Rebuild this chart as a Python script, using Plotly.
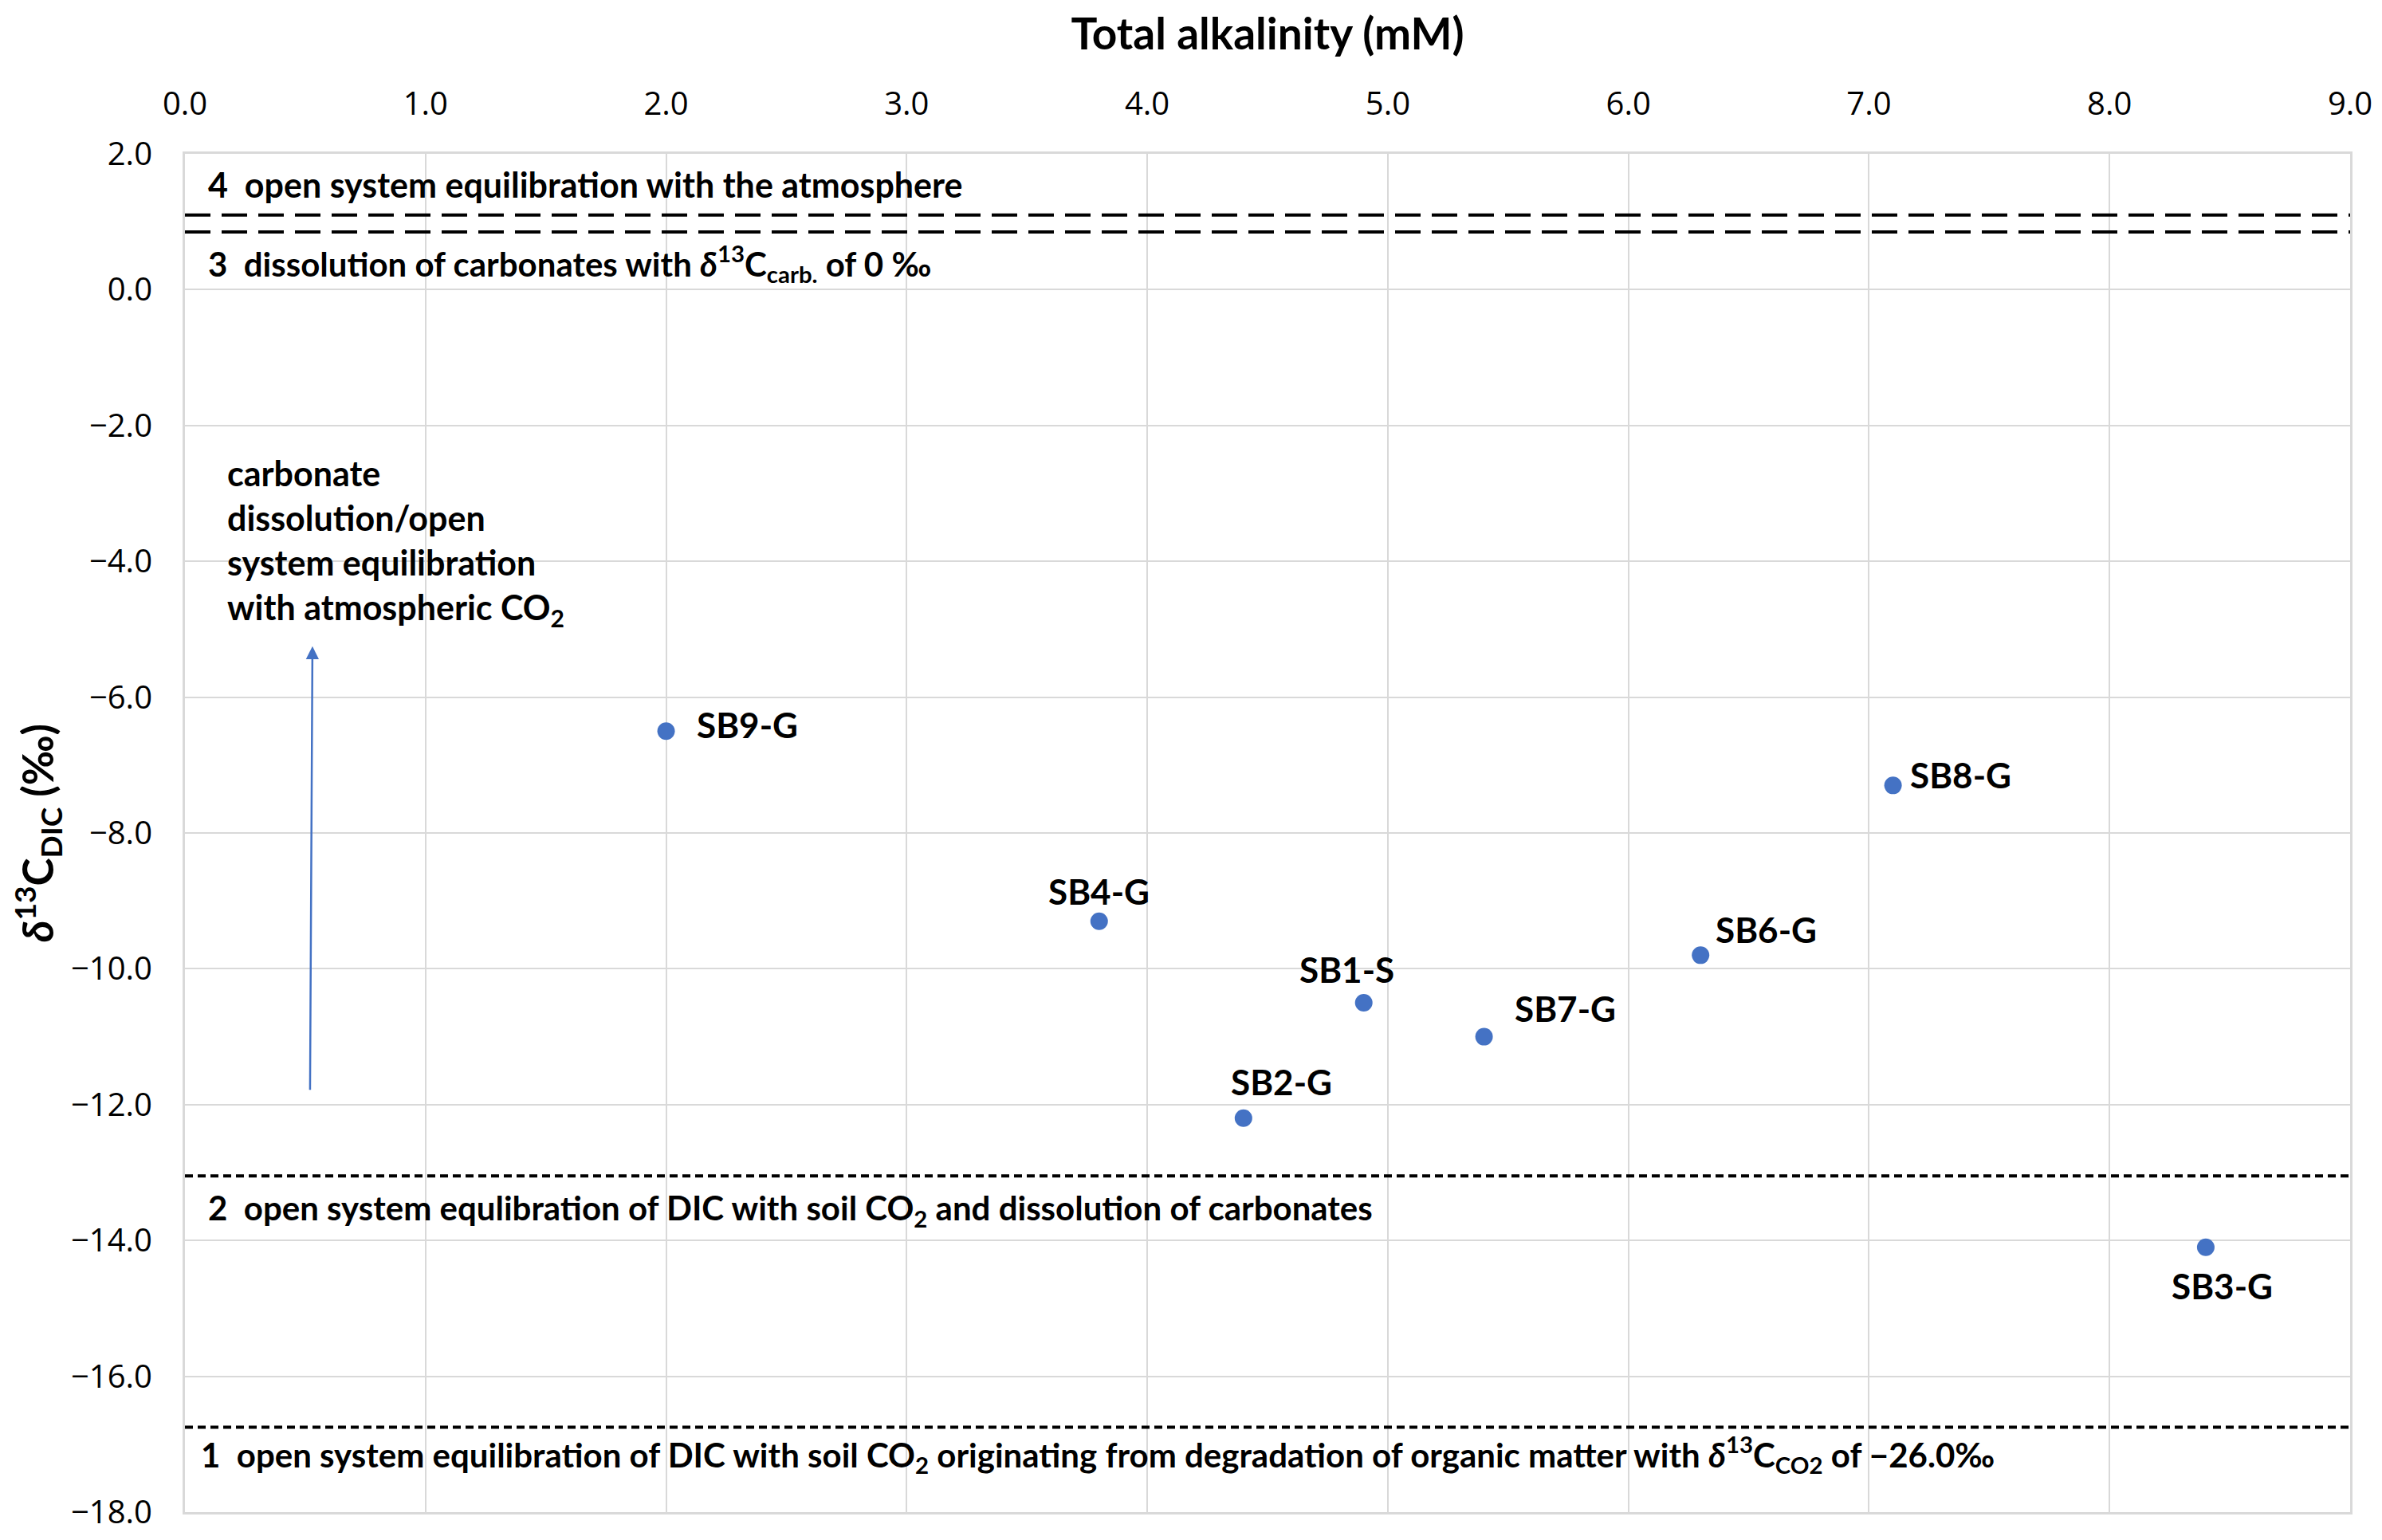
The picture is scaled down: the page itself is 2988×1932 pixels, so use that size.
import plotly.graph_objects as go

# ---- data ----
sample_names = ["SB9-G", "SB4-G", "SB1-S", "SB2-G", "SB7-G", "SB6-G", "SB8-G", "SB3-G"]
alkalinity_mM = [2.0, 3.8, 4.9, 4.4, 5.4, 6.3, 7.1, 8.4]
d13c_dic = [-6.5, -9.3, -10.5, -12.2, -11.0, -9.8, -7.3, -14.1]

upper_levels = [1.1, 0.85]      # zone 4 / zone 3 boundaries (long dash)
lower_levels = [-13.05, -16.75]  # zone 2 / zone 1 boundaries (short dash)

x_ticks = [0, 1, 2, 3, 4, 5, 6, 7, 8, 9]
y_ticks = [2, 0, -2, -4, -6, -8, -10, -12, -14, -16, -18]

zone_texts = [
    "4  open system equilibration with the atmosphere",
    "3  dissolution of carbonates with <i>δ</i><sup>13</sup>C<sub>carb.</sub> of 0 ‰",
    "2  open system equlibration of DIC with soil CO<sub>2</sub> and dissolution of carbonates",
    "1  open system equilibration of DIC with soil CO<sub>2</sub> originating from degradation of organic matter with <i>δ</i><sup>13</sup>C<sub>CO2</sub> of −26.0‰",
]
zone_text_x = [0.09, 0.09, 0.09, 0.06]
zone_text_y = [1.55, 0.39, -13.55, -17.15]
zone_text_size = [43, 42, 42, 42]

arrow_x = [0.52, 0.53]
arrow_y = [-11.8, -5.25]
arrow_text = "carbonate<br>dissolution/open<br>system equilibration<br>with atmospheric CO<sub>2</sub>"
arrow_text_x = 0.17
arrow_text_y = -3.72

# label offsets (pixels) and anchors
label_dx = [36, 0, -21, 48, 36, 17, 19, 21]
label_dy = [8, 38, 42, 46, 36, 32, 13, -48]
label_anchor = ["left", "center", "center", "center", "left", "left", "left", "center"]

TICKFONT = "Open Sans"
BOLDFONT = "Lato"
BLUE = "#4472C4"
GRID = "#d9d9d9"

fig = go.Figure()

for lv in upper_levels:
    fig.add_trace(go.Scatter(x=[x_ticks[0], x_ticks[-1]], y=[lv, lv], mode="lines",
                             line=dict(color="black", width=4, dash="32px,14px"),
                             hoverinfo="skip", showlegend=False))
for lv in lower_levels:
    fig.add_trace(go.Scatter(x=[x_ticks[0], x_ticks[-1]], y=[lv, lv], mode="lines",
                             line=dict(color="black", width=4, dash="10px,6px"),
                             hoverinfo="skip", showlegend=False))

fig.add_trace(go.Scatter(x=alkalinity_mM, y=d13c_dic, mode="markers",
                         marker=dict(color=BLUE, size=22),
                         showlegend=False))

for name, xv, yv, dx, dy, anc in zip(sample_names, alkalinity_mM, d13c_dic, label_dx, label_dy, label_anchor):
    fig.add_annotation(x=xv, y=yv, text=f"<b>{name}</b>", showarrow=False,
                       xanchor=anc, yanchor="middle", xshift=dx, yshift=dy,
                       font=dict(family=BOLDFONT, size=44, color="black"))

for t, xv, yv, sz in zip(zone_texts, zone_text_x, zone_text_y, zone_text_size):
    fig.add_annotation(x=xv, y=yv, text=f"<b>{t}</b>", showarrow=False,
                       xanchor="left", yanchor="middle",
                       font=dict(family=BOLDFONT, size=sz, color="black"))

fig.add_annotation(x=arrow_x[1], y=arrow_y[1], ax=arrow_x[0], ay=arrow_y[0],
                   xref="x", yref="y", axref="x", ayref="y", text="",
                   showarrow=True, arrowhead=2, arrowsize=1.3, arrowwidth=2.5,
                   arrowcolor=BLUE)
fig.add_annotation(x=arrow_text_x, y=arrow_text_y, text=f"<b>{arrow_text}</b>",
                   showarrow=False, xanchor="left", yanchor="middle", align="left",
                   font=dict(family=BOLDFONT, size=43, color="black"))

fig.update_layout(
    width=2988, height=1932,
    paper_bgcolor="white", plot_bgcolor="white",
    margin=dict(l=224, r=48, t=185, b=43),
    font=dict(family=TICKFONT, size=38, color="black"),
    xaxis=dict(side="top", range=[0, 9], tickvals=x_ticks, tickformat=".1f",
               showgrid=True, gridcolor=GRID, gridwidth=2, zeroline=False,
               showline=True, linecolor=GRID, linewidth=3, mirror=True,
               ticks="outside", ticklen=0, ticklabelstandoff=30,
               tickfont=dict(family=TICKFONT, size=40),
               title=dict(text="<b>Total alkalinity (mM)</b>", standoff=30,
                          font=dict(family=BOLDFONT, size=55))),
    yaxis=dict(range=[-18, 2], tickvals=y_ticks, tickformat=".1f",
               showgrid=True, gridcolor=GRID, gridwidth=2, zeroline=False,
               showline=True, linecolor=GRID, linewidth=3, mirror=True,
               ticks="outside", ticklen=0, ticklabelstandoff=30,
               tickfont=dict(family=TICKFONT, size=40),
               title=dict(text="<b><i>δ</i><sup>13</sup>C<sub>DIC</sub> (‰)</b>", standoff=20,
                          font=dict(family=BOLDFONT, size=53))),
)

fig.write_html("out.html")
